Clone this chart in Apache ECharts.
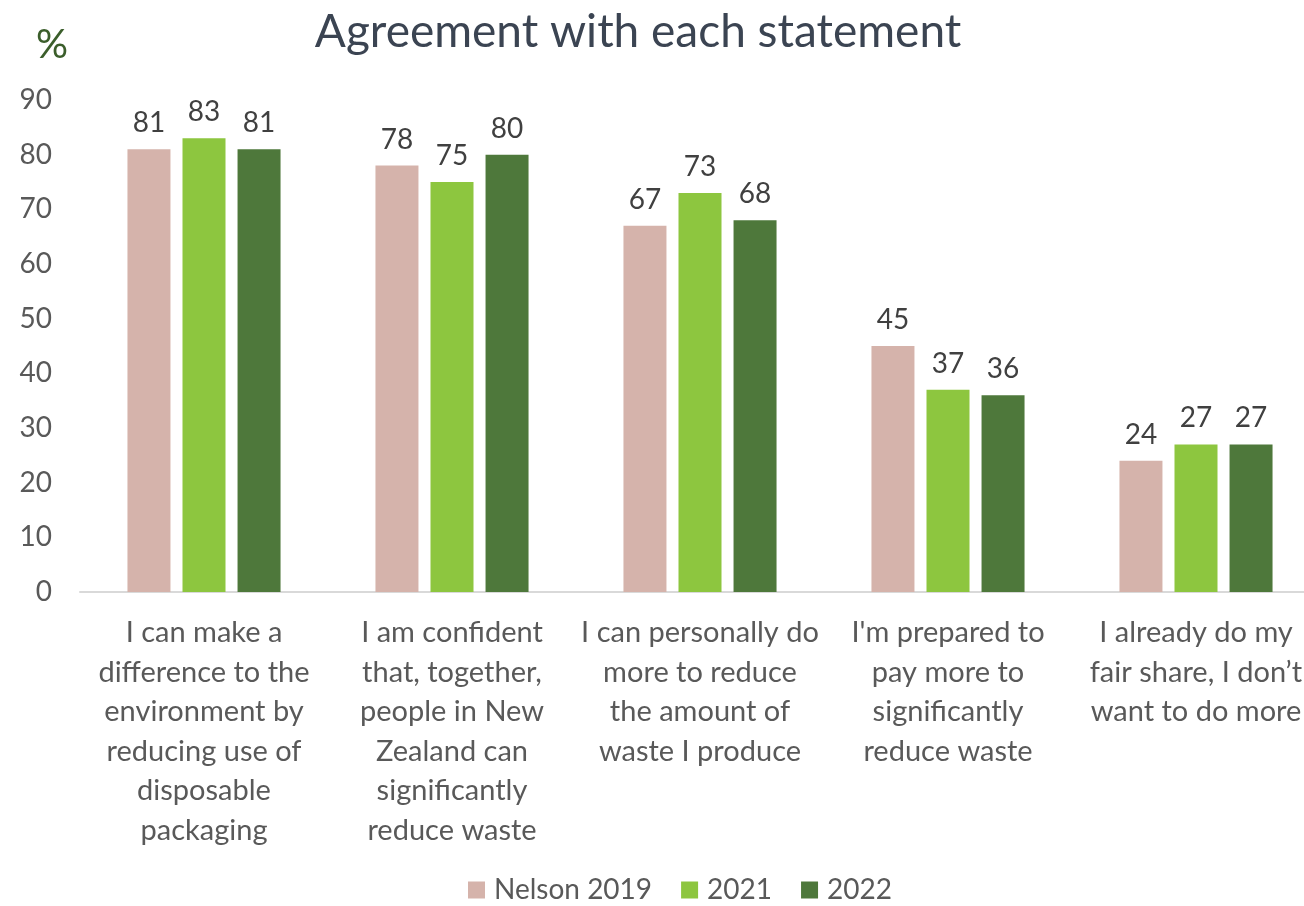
<!DOCTYPE html>
<html>
<head>
<meta charset="utf-8">
<script src="https://cdn.jsdelivr.net/npm/echarts@6/dist/echarts.min.js"></script>
<style>
  html, body { margin: 0; padding: 0; background: #fff; overflow: hidden; }
  /* the chart runs a little past the right edge of the window */
  #chart { width: 1320px; height: 906px; }
</style>
</head>
<body>
<div id="chart"></div>
<script>
// Statements (category axis), wrapped as shown on the axis
const categories = [
  "I can make a\ndifference to the\nenvironment by\nreducing use of\ndisposable\npackaging",
  "I am confident\nthat, together,\npeople in New\nZealand can\nsignificantly\nreduce waste",
  "I can personally do\nmore to reduce\nthe amount of\nwaste I produce",
  "I'm prepared to\npay more to\nsignificantly\nreduce waste",
  "I already do my\nfair share, I don\u2019t\nwant to do more"
];

// Agreement (%) per survey year
const nelson2019 = [81, 78, 67, 45, 24];
const y2021 = [83, 75, 73, 37, 27];
const y2022 = [81, 80, 68, 36, 27];

const seriesNames = ["Nelson 2019", "2021", "2022"];
const seriesColors = ["#d5b3ab", "#8dc63f", "#4e783b"];

const FONT = "Lato";

const chart = echarts.init(document.getElementById("chart"), null, { renderer: "canvas" });

const labelStyle = {
  show: true,
  position: "top",
  distance: 12,
  color: "#404040",
  fontSize: 28,
  fontFamily: FONT
};

const makeSeries = (name, data, color) => ({
  name: name,
  type: "bar",
  data: data,
  barWidth: 43,
  barGap: "28%",
  itemStyle: { color: color },
  label: labelStyle
});

chart.setOption({
  animation: false,
  textStyle: { fontFamily: FONT },
  title: [
    {
      text: "Agreement with each statement",
      left: 633,
      textAlign: "center",
      top: 4,
      textStyle: { color: "#3b4452", fontSize: 46, fontWeight: "normal", fontFamily: FONT }
    },
    {
      text: "%",
      left: 31,
      top: 20,
      textStyle: { color: "#3b5e2b", fontSize: 40, fontWeight: "normal", fontFamily: FONT }
    }
  ],
  legend: {
    data: seriesNames,
    left: 468,
    top: 875,
    padding: 0,
    itemWidth: 17,
    itemHeight: 17,
    itemGap: 29,
    icon: "rect",
    textStyle: { color: "#595959", fontSize: 28, lineHeight: 30, padding: [0, 0, 0, 4], fontFamily: FONT }
  },
  grid: {
    left: 80,
    top: 100,
    right: 0,
    bottom: 314,
    containLabel: false
  },
  xAxis: {
    type: "category",
    data: categories,
    axisLine: { lineStyle: { color: "#d9d9d9", width: 2 } },
    axisTick: { show: false },
    axisLabel: {
      interval: 0,
      margin: 21,
      color: "#595959",
      fontSize: 29,
      lineHeight: 39.5,
      fontFamily: FONT
    }
  },
  yAxis: {
    type: "value",
    min: 0,
    max: 90,
    interval: 10,
    splitLine: { show: false },
    axisLine: { show: false },
    axisTick: { show: false },
    axisLabel: {
      color: "#595959",
      fontSize: 28,
      margin: 28,
      fontFamily: FONT
    }
  },
  series: [
    makeSeries(seriesNames[0], nelson2019, seriesColors[0]),
    makeSeries(seriesNames[1], y2021, seriesColors[1]),
    makeSeries(seriesNames[2], y2022, seriesColors[2])
  ]
});
</script>
</body>
</html>
